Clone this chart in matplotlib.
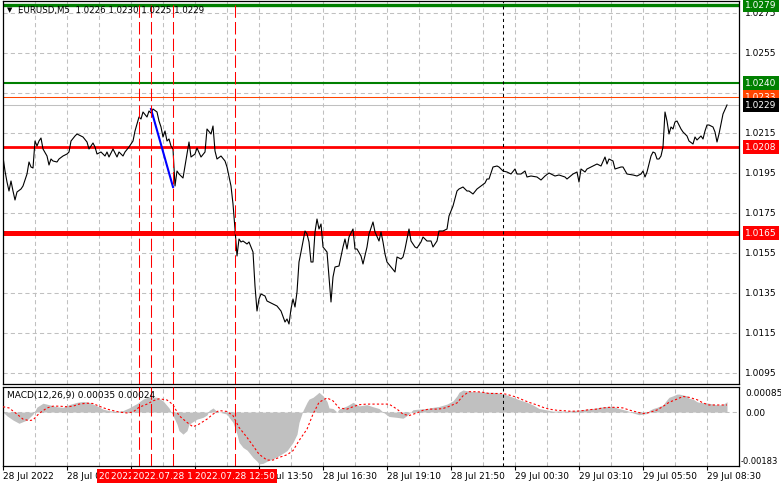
import matplotlib
matplotlib.use('Agg')
import matplotlib.pyplot as plt
from matplotlib.transforms import blended_transform_factory as blend

# EURUSD M5, bar index counted from 28 Jul 03:10
bars = [0, 1, 2, 3, 4, 5, 6, 7, 9, 10, 12, 13, 14, 15, 16, 17, 18, 19, 20, 22,
        23, 24, 25, 27, 28, 30, 32, 33, 34, 36, 37, 38, 40, 42, 43, 45, 46, 47, 49, 51,
        52, 53, 55, 57, 58, 60, 61, 63, 65, 66, 68, 69, 70, 72, 73, 74, 75, 77, 78, 79,
        80, 81, 82, 83, 84, 85, 86, 87, 88, 90, 91, 93, 94, 96, 97, 99, 101, 102, 104, 105,
        106, 107, 109, 111, 112, 114, 115, 116, 117, 118, 119, 120, 122, 123, 125, 126, 127, 128, 129, 131,
        132, 135, 137, 139, 141, 142, 143, 144, 145, 146, 147, 148, 149, 151, 152, 153, 154, 155, 156, 157,
        158, 159, 160, 162, 163, 164, 165, 166, 168, 170, 171, 172, 173, 175, 176, 177, 179, 180, 182, 183,
        185, 186, 188, 189, 190, 191, 192, 194, 196, 197, 199, 200, 201, 203, 204, 206, 207, 209, 210, 212,
        214, 215, 217, 218, 220, 222, 223, 225, 227, 228, 230, 232, 233, 235, 237, 239, 241, 242, 243, 245,
        247, 248, 250, 252, 254, 256, 257, 259, 261, 262, 264, 267, 269, 271, 273, 276, 278, 281, 282, 285,
        287, 288, 289, 291, 292, 295, 297, 299, 301, 302, 303, 305, 306, 309, 310, 312, 315, 317, 319, 320,
        321, 322, 324, 325, 326, 327, 328, 329, 330, 331, 332, 333, 334, 335, 336, 337, 339, 340, 342, 343,
        345, 346, 347, 349, 350, 351, 352, 353, 355, 356, 357, 358, 359, 360, 362]
close = [1.0203, 1.0196, 1.01905, 1.0186, 1.0191, 1.0186, 1.01815, 1.01855, 1.0187, 1.01885,
         1.01945, 1.02005, 1.0198, 1.01975, 1.0211, 1.02085, 1.0211, 1.02125, 1.0207, 1.02035,
         1.0199, 1.0202, 1.0201, 1.02005, 1.0202, 1.02035, 1.02045, 1.02055, 1.0211, 1.02135,
         1.02145, 1.0214, 1.0213, 1.02105, 1.0207, 1.021, 1.0208, 1.02045, 1.02055, 1.02035,
         1.02055, 1.0203, 1.0207, 1.0203, 1.02055, 1.02035, 1.02055, 1.0208, 1.0211, 1.0216,
         1.0223, 1.0222, 1.02255, 1.0223, 1.0226, 1.0225, 1.0227, 1.02255, 1.0221, 1.0218,
         1.0213, 1.0216, 1.0211, 1.0212, 1.02085, 1.0207, 1.01885, 1.0196, 1.01945, 1.01925,
         1.01985, 1.02105, 1.0203, 1.02045, 1.02075, 1.0203, 1.02055, 1.0217, 1.02145, 1.02185,
         1.0206, 1.0202, 1.02035, 1.0201, 1.0198, 1.01885, 1.01795, 1.0167, 1.01535, 1.0162,
         1.01605, 1.0161, 1.01595, 1.01605, 1.01555, 1.01385, 1.0126, 1.0132, 1.01345, 1.01335,
         1.0131, 1.01295, 1.01285, 1.0126, 1.01205, 1.0122, 1.01195, 1.0127, 1.0132, 1.0128,
         1.01355, 1.01505, 1.01555, 1.0166, 1.01645, 1.01605, 1.01505, 1.01505, 1.01655, 1.0172,
         1.0167, 1.01695, 1.0158, 1.01555, 1.0143, 1.01305, 1.0143, 1.0148, 1.01485, 1.0158,
         1.0162, 1.0157, 1.0163, 1.0167, 1.0157, 1.0157, 1.01535, 1.01495, 1.0158, 1.01645,
         1.01705, 1.01655, 1.0161, 1.01655, 1.01605, 1.01545, 1.01505, 1.0148, 1.01455, 1.0153,
         1.0152, 1.0153, 1.0157, 1.0167, 1.0161, 1.0158, 1.01575, 1.01605, 1.0163, 1.0161,
         1.0161, 1.0158, 1.0161, 1.0166, 1.0166, 1.0167, 1.01735, 1.01785, 1.0186, 1.0187,
         1.0188, 1.0186, 1.0186, 1.01845, 1.0187, 1.01885, 1.019, 1.0192, 1.0192, 1.0198,
         1.01985, 1.0198, 1.0196, 1.01955, 1.01945, 1.0197, 1.01945, 1.01945, 1.0196, 1.0193,
         1.01935, 1.0193, 1.01915, 1.01935, 1.0195, 1.01935, 1.0194, 1.0193, 1.0192, 1.01945,
         1.01955, 1.01905, 1.0197, 1.01955, 1.0197, 1.01985, 1.01995, 1.01985, 1.0203, 1.01995,
         1.0202, 1.0201, 1.0197, 1.0198, 1.0198, 1.01945, 1.0194, 1.01935, 1.01945, 1.0196,
         1.0193, 1.01955, 1.02035, 1.02055, 1.0205, 1.0202, 1.0202, 1.02035, 1.0208, 1.02255,
         1.0221, 1.02145, 1.0218, 1.0217, 1.02205, 1.0221, 1.0217, 1.02155, 1.02135, 1.0211,
         1.02095, 1.0213, 1.02115, 1.02135, 1.0212, 1.0216, 1.0219, 1.0219, 1.0218, 1.02155,
         1.02105, 1.02145, 1.02195, 1.02245, 1.0229]

# MACD(12,26,9) main (histogram)
macd_bars = [0, 2, 5, 8, 12, 15, 17, 20, 23, 27, 30, 33, 37, 40, 43, 47, 50, 53, 57, 60,
             63, 67, 70, 73, 77, 80, 83, 85, 87, 88, 90, 92, 93, 97, 100, 102, 103, 105, 107, 108,
             112, 113, 115, 117, 118, 120, 122, 123, 125, 127, 128, 130, 132, 135, 138, 142, 145, 147, 148, 150,
             152, 153, 155, 157, 158, 160, 162, 163, 165, 167, 168, 172, 175, 178, 182, 185, 188, 190, 193, 197,
             200, 202, 205, 208, 212, 215, 218, 222, 225, 227, 228, 230, 232, 235, 238, 242, 245, 248, 252, 255,
             258, 262, 265, 268, 272, 275, 278, 282, 285, 288, 292, 295, 298, 302, 305, 308, 312, 315, 318, 322,
             323, 325, 327, 328, 330, 332, 333, 335, 337, 338, 340, 342, 343, 345, 347, 348, 352, 355, 358, 360,
             362]
macd_main = [0.0, -0.00013, -0.00027, -0.00038, -0.00027, -0.00007, 0.00017, 0.0003, 0.00025, 0.00018,
             0.00016, 0.00025, 0.00033, 0.00036, 0.00033, 0.00021, 0.0001, 0.00005, 0.00002, 0.00005,
             0.00014, 0.00029, 0.00044, 0.00052, 0.0005, 0.00038, 0.00014, -0.00012, -0.00041, -0.00063,
             -0.00075, -0.00063, -0.00041, -0.00024, -0.00018, -0.0001, 0.00005, 0.00014, 0.00002, 0.0,
             -0.00007, -0.00018, -0.00035, -0.00075, -0.00103, -0.0012, -0.00129, -0.00137, -0.00154, -0.00167,
             -0.00176, -0.00174, -0.00167, -0.00159, -0.00148, -0.00131, -0.00103, -0.00075, -0.00035, 0.00005,
             0.00033, 0.00044, 0.0005, 0.00061, 0.00067, 0.00055, 0.00036, 0.00014, 0.00012, 0.0,
             0.0001, 0.00021, 0.00033, 0.00021, 0.00025, 0.00018, 0.00012, 0.0, -0.00015, -0.00018,
             -0.00021, -0.00012, 0.00008, 0.0001, 0.00012, 0.00016, 0.00019, 0.00027, 0.00038, 0.00055,
             0.00067, 0.00075, 0.00072, 0.00069, 0.00069, 0.00067, 0.00067, 0.00064, 0.00058, 0.0005,
             0.00042, 0.00033, 0.00024, 0.00012, 0.00007, 0.00003, 0.00004, 0.00003, 0.00005, 0.00007,
             0.0001, 0.00012, 0.00016, 0.00019, 0.00019, 0.00012, 0.00005, -0.00003, -0.00009, -0.00005,
             0.00005, 0.00012, 0.00016, 0.00019, 0.00024, 0.00042, 0.0005, 0.00055, 0.00061, 0.00061,
             0.00058, 0.00055, 0.00047, 0.00044, 0.00035, 0.00033, 0.00031, 0.00027, 0.00024, 0.00026,
             0.00035]

# MACD signal line
sig_bars = [0, 3, 7, 10, 13, 15, 18, 22, 25, 28, 32, 35, 38, 42, 45, 48, 52, 55, 58, 62,
            65, 68, 72, 75, 78, 82, 85, 88, 92, 95, 98, 102, 105, 108, 112, 115, 118, 122, 125, 128,
            132, 135, 138, 142, 145, 148, 152, 155, 158, 162, 165, 168, 172, 175, 178, 182, 186, 193, 197, 200,
            203, 207, 210, 213, 217, 220, 223, 227, 230, 233, 237, 240, 243, 247, 250, 253, 257, 260, 263, 267,
            270, 273, 277, 280, 283, 287, 290, 293, 297, 300, 303, 307, 310, 313, 317, 320, 323, 327, 330, 333,
            337, 340, 343, 347, 350, 353, 357, 360, 362]
macd_signal = [0.00018, 0.00014, -0.00007, -0.00024, -0.00029, -0.00027, -0.00005, 0.00014, 0.0002, 0.0002,
               0.00018, 0.0002, 0.00027, 0.0003, 0.00029, 0.0002, 0.0001, 0.00005, 0.0, -0.00003,
               0.0, 0.00016, 0.00027, 0.00038, 0.00045, 0.00041, 0.00025, -0.00012, -0.00035, -0.0005,
               -0.00041, -0.00024, -0.00007, 0.00005, 0.00002, -0.00012, -0.00052, -0.00086, -0.00114, -0.00143,
               -0.00163, -0.00163, -0.00154, -0.00145, -0.00131, -0.00097, -0.00058, -0.00007, 0.00033, 0.00048,
               0.00038, 0.00014, 0.0001, 0.00018, 0.00025, 0.00027, 0.00027, 0.00027, 0.0001, -0.00007,
               -0.00012, -0.00003, 0.00006, 0.0001, 0.0001, 0.00012, 0.00019, 0.00031, 0.00055, 0.00069,
               0.00069, 0.00067, 0.00063, 0.00063, 0.00063, 0.00058, 0.0005, 0.00041, 0.00033, 0.00024,
               0.00016, 0.0001, 0.00006, 0.00005, 0.00003, 0.00003, 0.00005, 0.00008, 0.0001, 0.00014,
               0.00016, 0.00016, 0.00014, 0.00007, 0.0, -0.00005, -0.00002, 0.00007, 0.00019, 0.00033,
               0.00044, 0.00053, 0.0005, 0.00042, 0.00031, 0.00024, 0.00024, 0.00024, 0.00024]

price_ticks = [1.0275, 1.0255, 1.0235, 1.0215, 1.0195, 1.0175, 1.0155, 1.0135, 1.0115, 1.0095]
time_tick_bars = [0, 32, 64, 96, 128, 160, 192, 224, 256, 288, 320, 352]
time_tick_labels = ['28 Jul 2022', '28 Jul 05:50', '28 Jul 08:30', '28 Jul 11:10', '28 Jul 13:50',
                    '28 Jul 16:30', '28 Jul 19:10', '28 Jul 21:50', '29 Jul 00:30', '29 Jul 03:10',
                    '29 Jul 05:50', '29 Jul 08:30']

# horizontal levels: price, colour, width
levels = [(1.0279, '#008000', 2.4), (1.0240, '#008000', 1.5), (1.0233, '#ff4500', 0.75),
          (1.0229, '#c0c0c0', 0.75), (1.0208, '#ff0000', 2.0), (1.0165, '#ff0000', 3.6)]
level_labels = [(1.0279, '#008000', 'white'), (1.0240, '#008000', 'white'),
                (1.0233, '#ff4500', 'white'), (1.0229, '#000000', 'white'),
                (1.0208, '#ff0000', 'white'), (1.0165, '#ff0000', 'white')]

vline_bars = [68, 74, 85, 116]
vline_labels = ['2022.07.28 08:50', '2022.07.28 09:20', '2022.07.28 10:15', '2022.07.28 12:50']
day_sep_bar = 250
trend_bars = [74, 85]
trend_prices = [1.0227, 1.0188]

W, H = 781, 489
plt.rcParams['font.family'] = 'DejaVu Sans'
fs = 6.5
fig = plt.figure(figsize=(W / 100, H / 100), dpi=100)


def px_axes(l, t, r, b):
    return fig.add_axes([l / W, 1 - b / H, (r - l) / W, (b - t) / H])


ax = px_axes(3, 2, 739, 385)
ax2 = px_axes(3, 388, 739, 467)
grid_kw = dict(color='#c0c0c0', lw=0.75, ls=(0, (4, 3)), zorder=0)

for a in (ax, ax2):
    a.set_xlim(0, 368)
    for b in range(16, 368, 16):
        a.axvline(b, **grid_kw)
    for s in a.spines.values():
        s.set_linewidth(0.9)
    a.set_yticks([])

ax.set_ylim(1.00895, 1.0281)
for p in price_ticks:
    ax.axhline(p, **grid_kw)
ax.set_xticks([])

for p, c, w in levels:
    ax.axhline(p, color=c, lw=w, zorder=2)

ax.plot(bars, close, color='black', lw=0.8, zorder=3)
ax.plot(trend_bars, trend_prices, color='#0000ff', lw=1.5, zorder=4)

ax2.set_ylim(-0.00183, 0.00085)
ax2.axhline(0, **grid_kw)
ax2.fill_between(macd_bars, macd_main, 0, color='#c0c0c0', lw=0, zorder=1)
ax2.plot(sig_bars, macd_signal, color='#ff0000', lw=0.8, ls=(0, (2, 2)), zorder=3)
ax2.set_xticks(time_tick_bars)
ax2.set_xticklabels([])
ax2.tick_params(axis='x', direction='out', length=3, width=0.8)

for a in (ax, ax2):
    for b in vline_bars:
        a.axvline(b, color='#ff0000', lw=0.75, ls=(0, (12, 4)), zorder=5)
    a.axvline(day_sep_bar, color='black', lw=0.75, ls=(0, (3, 3)), zorder=5)

# titles
fig.text(7 / W, 1 - 10 / H, '\u25bc', fontsize=5, va='center', ha='left')
fig.text(18 / W, 1 - 10 / H, 'EURUSD,M5  1.0226 1.0230 1.0225 1.0229', fontsize=6.2,
         va='center', ha='left')
fig.text(7 / W, 1 - 396 / H, 'MACD(12,26,9) 0.00035 0.00024', fontsize=fs,
         va='center', ha='left')

# right price scale
tr = blend(fig.transFigure, ax.transData)
for p in price_ticks:
    fig.text(745 / W, p, f'{p:.4f}', transform=tr, fontsize=fs, va='center', ha='left')
for p, bg, fg in level_labels:
    fig.text(745 / W, p, f'{p:.4f}', transform=tr, fontsize=fs, va='center', ha='left',
             color=fg, bbox=dict(boxstyle='square,pad=0.25', fc=bg, ec='none'))

fig.text(745 / W, 1 - 393 / H, '0.00085', fontsize=fs, va='center', ha='left')
fig.text(745 / W, 1 - 413 / H, '0.00', fontsize=fs, va='center', ha='left')
fig.text(741 / W, 1 - 462 / H, '-0.00183', fontsize=6, va='center', ha='left')

# bottom time scale
trx = blend(ax2.transData, fig.transFigure)
for b, lab in zip(time_tick_bars, time_tick_labels):
    fig.text(b, 1 - 477 / H, lab, transform=trx, fontsize=fs, va='center', ha='left')
for b, lab in zip(vline_bars, vline_labels):
    fig.text(b, 1 - 477 / H, lab, transform=trx, fontsize=fs, va='center', ha='center',
             color='white', bbox=dict(boxstyle='square,pad=0.25', fc='#ff0000', ec='none'))

fig.savefig('out.png', dpi=100)
